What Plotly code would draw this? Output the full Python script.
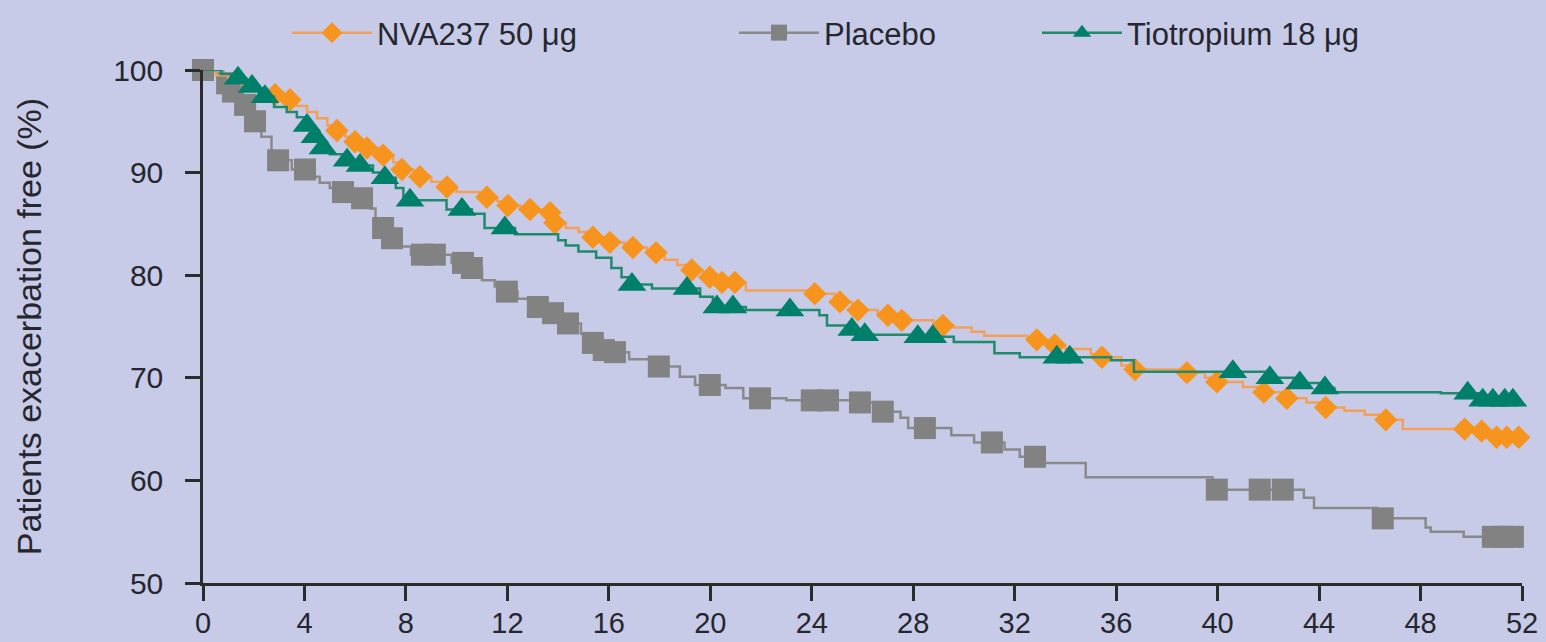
import numpy as np
import plotly.graph_objects as go

# ---- Data (weeks, % exacerbation free) ----
weeks_ticks = list(range(0, 53, 4))
pct_ticks = [50, 60, 70, 80, 90, 100]

# NVA237 50 ug: step times and survival levels
nva_t = [0, 0.5, 1.0, 1.5, 2.0, 2.5, 3.2, 3.7, 4.1, 4.5, 4.9, 5.2, 5.6, 5.9, 6.3, 6.9, 7.5, 7.8, 8.3, 9.0,
         9.4, 10.0, 10.9, 11.6, 11.9, 12.5, 13.5, 13.8, 14.3, 14.8, 15.2, 15.9, 16.6, 17.5, 18.2, 18.7, 19.1,
         19.7, 20.3, 21.4, 24.0, 24.9, 25.6, 26.6, 27.4, 28.8, 29.6, 30.3, 30.8, 32.5, 33.3, 34.0, 35.0, 35.4,
         36.2, 36.6, 38.5, 39.5, 39.9, 41.0, 41.7, 42.5, 43.5, 44.2, 45.0, 45.8, 46.5, 47.3, 49.9, 50.8, 51.9]
nva_s = [100, 99.5, 99.0, 98.6, 98.2, 97.6, 97.1, 96.5, 95.9, 95.3, 94.6, 94.1, 93.5, 93.0, 92.4, 91.7, 91.0,
         90.3, 89.6, 89.1, 88.6, 88.1, 87.6, 87.2, 86.8, 86.4, 86.1, 85.1, 84.6, 84.2, 83.7, 83.2, 82.7, 82.2,
         81.5, 81.0, 80.5, 79.8, 79.3, 78.5, 78.2, 77.4, 76.6, 76.1, 75.6, 75.1, 74.9, 74.5, 74.1, 73.7, 73.2,
         72.8, 72.3, 72.0, 71.2, 70.8, 70.5, 70.0, 69.6, 69.1, 68.6, 68.0, 67.6, 67.1, 66.8, 66.4, 65.9, 65.0,
         64.8, 64.2, 64.2]
nva_censor = [2.84, 3.43, 5.28, 5.99, 6.46, 7.10, 7.84, 8.55, 9.62, 11.19, 12.02, 12.89, 13.68, 13.87, 15.37,
              16.04, 16.95, 17.86, 19.27, 19.98, 20.46, 20.97, 24.12, 25.11, 25.82, 27.0, 27.55, 29.17, 32.87,
              33.58, 35.44, 36.74, 38.79, 39.97, 41.82, 42.73, 44.26, 46.63, 49.74, 50.41, 51.0, 51.4, 51.87]

# Placebo
pla_t = [0, 0.8, 1.1, 1.5, 1.9, 2.3, 2.7, 3.5, 4.3, 4.6, 5.0, 5.3, 6.0, 6.6, 6.8, 7.0, 7.3, 7.8, 8.2, 9.8,
         10.4, 11.0, 11.5, 11.8, 12.4, 13.0, 13.6, 14.2, 14.9, 15.2, 15.6, 16.1, 16.8, 17.6, 18.8, 19.4, 20.6,
         21.3, 23.0, 25.6, 26.5, 27.5, 27.8, 29.5, 30.4, 31.6, 32.2, 33.0, 34.8, 39.8, 43.4, 43.8, 46.3, 48.2,
         48.4, 49.7, 51.9]
pla_s = [100, 98.7, 97.9, 96.6, 95.0, 93.5, 91.2, 90.3, 89.6, 89.0, 88.5, 88.1, 87.5, 86.5, 85.5, 84.6, 83.6,
         82.8, 82.0, 81.2, 80.7, 79.5, 78.9, 78.4, 77.7, 76.9, 76.3, 75.3, 74.3, 73.4, 72.7, 72.5, 71.8, 71.1,
         70.1, 69.3, 69.0, 68.0, 67.8, 67.6, 66.7, 66.1, 65.1, 64.4, 63.7, 63.0, 62.3, 61.7, 60.3, 59.1, 58.3,
         57.3, 56.3, 55.4, 55.0, 54.5, 54.5]
pla_censor = [0, 0.95, 1.18, 1.66, 2.05, 2.96, 4.02, 5.52, 6.27, 7.1, 7.45, 8.63, 9.14, 10.25, 10.6, 11.98,
              13.2, 13.8, 14.39, 15.37, 15.8, 16.24, 17.97, 19.98, 21.96, 24.0, 24.64, 25.9, 26.8, 28.46, 31.1,
              32.8, 39.97, 41.66, 42.57, 46.51, 50.85, 51.24, 51.64]

# Tiotropium 18 ug
tio_t = [0, 0.7, 1.2, 1.7, 2.2, 2.8, 3.3, 3.7, 4.0, 4.3, 4.6, 5.0, 5.5, 6.0, 6.7, 7.0, 7.6, 7.9, 9.6, 10.6,
         11.1, 12.3, 14.0, 14.3, 14.8, 15.5, 16.1, 16.5, 16.8, 17.7, 19.6, 20.1, 21.4, 24.3, 24.6, 25.5, 26.0,
         27.9, 29.6, 31.2, 32.2, 35.8, 36.7, 42.0, 43.0, 44.0, 44.6, 48.8, 50.3, 51.9]
tio_s = [100, 99.6, 99.2, 98.4, 97.4, 96.4, 95.9, 95.4, 94.6, 93.5, 92.4, 91.8, 91.2, 90.7, 90.0, 89.5, 88.5,
         87.3, 86.4, 86.0, 84.6, 84.0, 83.4, 82.9, 82.3, 81.7, 80.7, 79.8, 79.1, 78.7, 77.9, 76.9, 76.6, 76.1,
         75.1, 74.7, 74.2, 74.0, 73.5, 72.4, 72.0, 71.7, 70.6, 70.0, 69.5, 69.0, 68.6, 68.5, 67.8, 67.8]
tio_censor = [1.38, 1.93, 2.44, 4.10, 4.41, 4.73, 5.68, 6.19, 7.17, 8.16, 10.21, 11.9, 16.91, 19.08, 20.26,
              20.89, 23.14, 25.58, 26.09, 28.18, 28.77, 33.66, 34.17, 40.6, 42.06, 43.24, 44.23, 49.86, 50.45,
              50.85, 51.32, 51.64]

names = ["NVA237 50 μg", "Placebo", "Tiotropium 18 μg"]

BG = "#c7cbe8"
FONT = "Liberation Sans, Arial, sans-serif"
TXT = "#26262e"
AX = "#2b2b2b"


def level_at(times, levels, pts):
    t = np.asarray(times)
    s = np.asarray(levels)
    idx = np.searchsorted(t, np.asarray(pts), side="right") - 1
    return s[np.clip(idx, 0, len(s) - 1)]


series = [
    dict(t=pla_t, s=pla_s, c=pla_censor, name=names[1], line="#8a8a8a", mcol="#828282",
         sym="square", size=22, legend="legend2"),
    dict(t=nva_t, s=nva_s, c=nva_censor, name=names[0], line="#f3a15a", mcol="#f7941d",
         sym="diamond", size=18, legend="legend"),
    dict(t=tio_t, s=tio_s, c=tio_censor, name=names[2], line="#1f8a6c", mcol="#00806a",
         sym="triangle-up", size=25, legend="legend3"),
]

fig = go.Figure()
for sr in series:
    fig.add_trace(go.Scatter(x=sr["t"], y=sr["s"], mode="lines", line=dict(color=sr["line"], width=2.5, shape="hv"),
                             showlegend=False, hoverinfo="skip", cliponaxis=False))
    fig.add_trace(go.Scatter(x=sr["c"], y=level_at(sr["t"], sr["s"], sr["c"]), mode="markers",
                             marker=dict(symbol=sr["sym"], size=sr["size"], color=sr["mcol"], line=dict(width=0)),
                             showlegend=False, cliponaxis=False))
    fig.add_trace(go.Scatter(x=[None], y=[None], mode="lines+markers", name=sr["name"],
                             line=dict(color=sr["line"], width=2.5),
                             marker=dict(symbol=sr["sym"], size=sr["size"], color=sr["mcol"], line=dict(width=0)),
                             legend=sr["legend"]))

leg_common = dict(orientation="h", xref="container", yref="container", yanchor="middle", xanchor="left",
                  bgcolor="rgba(0,0,0,0)", font=dict(family=FONT, size=31, color=TXT), itemwidth=80)
fig.update_layout(
    width=1546, height=642,
    margin=dict(l=203, r=24, t=70, b=59, autoexpand=False),
    paper_bgcolor=BG, plot_bgcolor=BG,
    font=dict(family=FONT, color=TXT),
    legend=dict(x=287 / 1546, y=1 - 33 / 642, **leg_common),
    legend2=dict(x=734 / 1546, y=1 - 33 / 642, **leg_common),
    legend3=dict(x=1037 / 1546, y=1 - 33 / 642, **leg_common),
    xaxis=dict(range=[0, 52], tickvals=weeks_ticks, showline=True, linecolor=AX, linewidth=2.5,
               ticks="outside", ticklen=15, tickwidth=2.5, tickcolor=AX, showgrid=False, zeroline=False,
               automargin=False,
               tickfont=dict(family=FONT, size=29, color=TXT), ticklabelstandoff=-3),
    yaxis=dict(range=[50, 100], tickvals=pct_ticks, showline=True, linecolor=AX, linewidth=2.5,
               ticks="outside", ticklen=15, tickwidth=2.5, tickcolor=AX, showgrid=False, zeroline=False,
               automargin=False,
               tickfont=dict(family=FONT, size=30, color=TXT), ticklabelstandoff=16,
               title=dict(text="Patients exacerbation free (%)", font=dict(family=FONT, size=34, color=TXT),
                          standoff=62)),
)

fig.write_html("out.html", config={"displayModeBar": False},
               post_script="document.body.style.margin='0';")
